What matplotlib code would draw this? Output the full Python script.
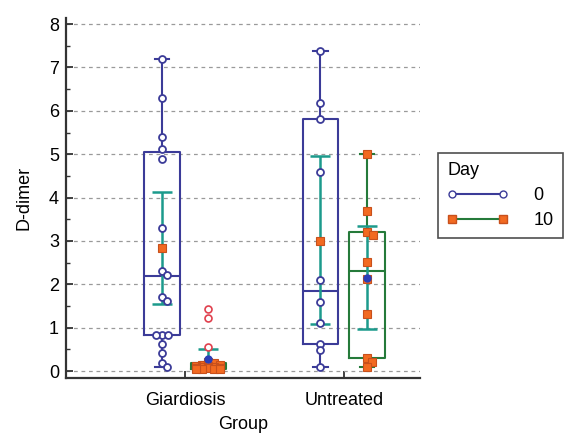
import matplotlib
matplotlib.use("Agg")
import matplotlib.pyplot as plt
from matplotlib.lines import Line2D
from matplotlib.ticker import MultipleLocator
import numpy as np

plt.rcParams['font.family'] = ['Liberation Sans', 'DejaVu Sans']

groups = ["Giardiosis", "Untreated"]
days = ["0", "10"]

# raw values
giardiosis_day0 = [7.2, 6.29, 5.40, 5.12, 4.89, 3.30, 2.31, 2.21, 1.71, 1.62,
                   0.83, 0.83, 0.83, 0.62, 0.41, 0.19, 0.09]
giardiosis_day10 = [0.20, 0.18, 0.15, 0.15, 0.12, 0.12, 0.10, 0.10, 0.08, 0.07,
                    0.06, 0.05, 0.05, 0.04, 0.04]
giardiosis_day10_out = [1.42, 1.23, 0.56]
untreated_day0 = [7.38, 6.19, 5.81, 4.59, 2.11, 1.60, 1.10, 0.62, 0.48, 0.10]
untreated_day10 = [5.00, 3.70, 3.20, 3.14, 2.51, 2.12, 1.31, 0.31, 0.21, 0.10]

# box statistics per group (Giardiosis, Untreated)
day0_whislo = [0.09, 0.10]
day0_q1 = [0.83, 0.62]
day0_med = [2.20, 1.84]
day0_q3 = [5.05, 5.81]
day0_whishi = [7.20, 7.38]
day0_mean = [2.84, 3.00]
day0_ci_lo = [1.54, 1.08]
day0_ci_hi = [4.13, 4.96]

day10_whislo = [0.04, 0.10]
day10_q1 = [0.05, 0.29]
day10_med = [0.10, 2.31]
day10_q3 = [0.19, 3.20]
day10_whishi = [0.22, 5.00]
day10_mean = [0.28, 2.15]
day10_ci_lo = [0.08, 0.97]
day10_ci_hi = [0.52, 3.35]

navy = "#3b3b98"
green = "#257a3a"
teal = "#1c9a8c"
orange = "#f26a21"
orange_edge = "#c8501c"
red = "#e0404e"

fig = plt.figure(figsize=(5.65, 4.38), dpi=100)
ax = fig.add_axes([66 / 565, 60 / 438, (420 - 66) / 565, (378 - 18) / 438])
ax.set_xlim(-0.75, 1.48)
ax.set_ylim(-0.16, 8.14)

off = 0.147
width = 0.224


def make_stats(lo, q1, med, q3, hi):
    return [dict(whislo=lo[i], q1=q1[i], med=med[i], q3=q3[i], whishi=hi[i], fliers=[])
            for i in range(len(lo))]


pos0 = [i - off for i in range(len(groups))]
pos10 = [i + off for i in range(len(groups))]

ax.bxp(make_stats(day0_whislo, day0_q1, day0_med, day0_q3, day0_whishi), positions=pos0,
       widths=width, showfliers=False,
       boxprops=dict(color=navy, lw=1.5), medianprops=dict(color=navy, lw=1.5),
       whiskerprops=dict(color=navy, lw=1.5), capprops=dict(color=navy, lw=1.5),
       capwidths=0.09, zorder=3)
ax.bxp(make_stats(day10_whislo, day10_q1, day10_med, day10_q3, day10_whishi), positions=pos10,
       widths=width, showfliers=False,
       boxprops=dict(color=green, lw=1.5), medianprops=dict(color=green, lw=1.5),
       whiskerprops=dict(color=green, lw=1.5), capprops=dict(color=green, lw=1.5),
       capwidths=0.09, zorder=3)

# mean with confidence interval
for pos, m, lo, hi in [(pos0, day0_mean, day0_ci_lo, day0_ci_hi),
                       (pos10, day10_mean, day10_ci_lo, day10_ci_hi)]:
    m = np.array(m)
    ax.errorbar(pos, m, yerr=[m - np.array(lo), np.array(hi) - m], fmt='none',
                ecolor=teal, elinewidth=1.8, capsize=7, capthick=1.8, zorder=4)


def swarm(x0, values, diam=7.0, maxw=14):
    # simple beeswarm in pixel space, kept inside the box
    pts = []
    order = sorted(values, reverse=True)
    for v in order:
        px, py = ax.transData.transform((x0, v))
        best, best_cost = 0, None
        for k in range(2 * maxw + 1):
            dx = (k + 1) // 2 * (1 if k % 2 else -1)
            cost = sum(max(0, diam ** 2 - ((px + dx - a) ** 2 + (py - b) ** 2)) for a, b in pts)
            if cost == 0:
                best = dx
                break
            if best_cost is None or cost < best_cost:
                best, best_cost = dx, cost
        pts.append((px + best, py))
    inv = ax.transData.inverted()
    xy = np.array([inv.transform(p) for p in pts])
    return xy[:, 0], xy[:, 1]


for x0, vals in [(pos0[0], giardiosis_day0), (pos0[1], untreated_day0)]:
    xs, ys = swarm(x0, vals, diam=6.0)
    ax.plot(xs, ys, 'o', ms=5, mfc='white', mec=navy, mew=1.3, ls='none', zorder=5)
for x0, vals in [(pos10[0], giardiosis_day10), (pos10[1], untreated_day10)]:
    xs, ys = swarm(x0, vals, diam=6.0, maxw=12)
    ax.plot(xs, ys, 's', ms=5.5, mfc=orange, mec=orange_edge, mew=0.8, ls='none', zorder=5)

ax.plot([pos10[0]] * len(giardiosis_day10_out), giardiosis_day10_out, 'o', ms=5,
        mfc='white', mec=red, mew=1.2, ls='none', zorder=5)

# mean markers
ax.plot(pos0, day0_mean, 's', ms=6, mfc=orange, mec=orange_edge, mew=0.8, ls='none', zorder=6)
ax.plot(pos10, day10_mean, 'o', ms=5, mfc="#2a3fb8", mec="#2a3fb8", ls='none', zorder=6)

ax.set_xticks(range(len(groups)))
ax.set_xticklabels(groups)
ax.yaxis.set_major_locator(MultipleLocator(1))
ax.yaxis.set_minor_locator(MultipleLocator(0.5))
ax.tick_params(axis='both', which='major', direction='in', length=5, width=1.3,
               labelsize=13, color='#333333')
ax.tick_params(axis='x', which='major', pad=10)
ax.tick_params(axis='y', which='major', pad=5)
ax.tick_params(axis='y', which='minor', direction='in', length=3, width=1, color='#333333')
ax.grid(axis='y', which='major', ls=(0, (3, 3)), color='#9a9a9a', lw=0.9)
ax.set_axisbelow(True)
for s in ['top', 'right']:
    ax.spines[s].set_visible(False)
for s in ['left', 'bottom']:
    ax.spines[s].set_linewidth(1.6)
    ax.spines[s].set_color('#333333')

ax.set_xlabel("Group", fontsize=13, labelpad=5)
ax.set_ylabel("D-dimer", fontsize=13, labelpad=12)

handles = [Line2D([0], [0], color=navy, lw=1.5, marker='o', ms=5, mfc='white', mec=navy),
           Line2D([0], [0], color=green, lw=1.5, marker='s', ms=5.5, mfc=orange, mec=orange_edge)]
leg = fig.legend(handles, days, title="Day", loc='upper left',
                 bbox_to_anchor=(438 / 565, 1 - 153 / 438), numpoints=2, fontsize=13,
                 title_fontsize=13, frameon=True, fancybox=False, edgecolor='#222222',
                 handlelength=3.4, handletextpad=1.4, borderaxespad=0, alignment='left',
                 borderpad=0.5, labelspacing=0.45)
leg.get_frame().set_linewidth(1.2)

fig.savefig("out.png", dpi=100)
